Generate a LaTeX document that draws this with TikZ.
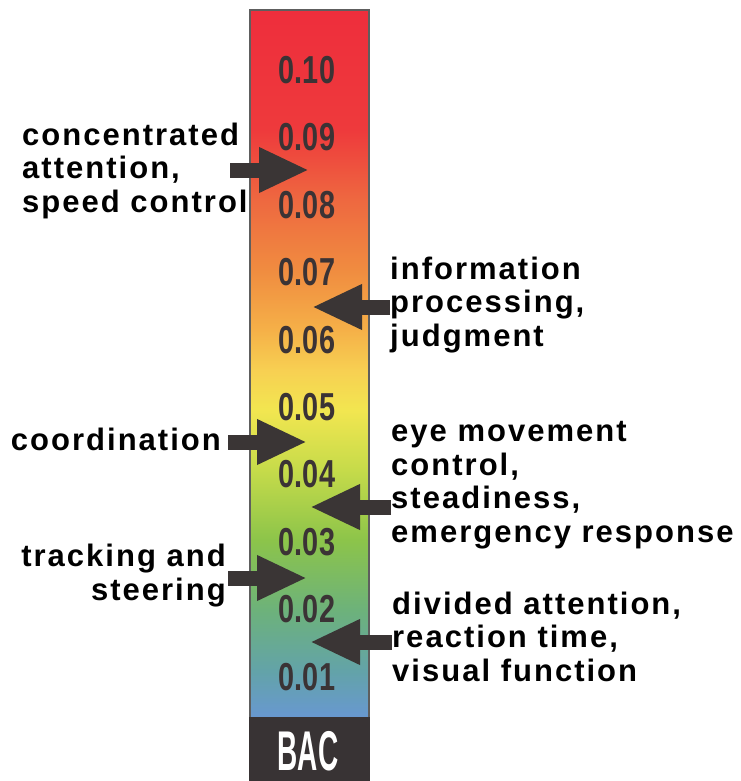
\documentclass[tikz,border=0pt]{standalone}
\usepackage{fontspec}
\usepackage{graphicx}
\setmainfont{Liberation Sans}
\newfontfamily\labelfont{Liberation Sans}[LetterSpace=6.5]
\usetikzlibrary{arrows.meta}
\definecolor{barred}{HTML}{EE2E3C}
\definecolor{barred2}{HTML}{EE3A3C}
\definecolor{barorange}{HTML}{EE6840}
\definecolor{barorange2}{HTML}{F08C40}
\definecolor{baramber}{HTML}{F5B048}
\definecolor{baryellow2}{HTML}{F7D052}
\definecolor{baryellow}{HTML}{F2E650}
\definecolor{barlime}{HTML}{C6DB4A}
\definecolor{bargreen}{HTML}{8CC44A}
\definecolor{bargreen2}{HTML}{6DB27A}
\definecolor{barteal}{HTML}{63A3A8}
\definecolor{barblue}{HTML}{6898D0}
\definecolor{arrowgray}{HTML}{3A3535}
\definecolor{numgray}{HTML}{3B3335}
\definecolor{bacdark}{HTML}{383334}
\definecolor{bordergray}{HTML}{5E5E5E}
\pgfdeclareverticalshading{bacshading}{100bp}{color(0bp)=(barblue); color(25bp)=(barblue);
  color(28.3bp)=(barteal); color(32.6bp)=(bargreen2); color(37.5bp)=(bargreen);
  color(42.5bp)=(barlime); color(46.7bp)=(baryellow); color(49.5bp)=(baryellow2);
  color(52.4bp)=(baramber); color(56.6bp)=(barorange2); color(61.6bp)=(barorange);
  color(66.5bp)=(barred2); color(75bp)=(barred); color(100bp)=(barred)}
\tikzset{num/.style={font=\bfseries\fontsize{39}{39}\selectfont, text=numgray, inner sep=0pt},
         effect/.style={font=\labelfont\bfseries\fontsize{31}{33.5}\selectfont, inner sep=0pt},
         blockarrow/.style={line width=15pt, draw=arrowgray, -{Triangle[length=50pt,width=42pt]}}}

\begin{document}
\begin{tikzpicture}[x=1pt,y=-1pt]
        \useasboundingbox (0,0) rectangle (740,781);
        \pgfmathsetmacro{\xl}{250}
        \pgfmathsetmacro{\xr}{369}
        \pgfmathsetmacro{\ytop}{10}
        \pgfmathsetmacro{\ybac}{717}
        %
        \shade[shading=bacshading] (\xl,\ytop) rectangle (\xr,\ybac);
        \draw[bordergray, line width=2pt] (\xl,\ybac) -- (\xl,\ytop) -- (\xr,\ytop) -- (\xr,\ybac);
        \fill[bacdark] (\xl-1,\ybac) rectangle (\xr+1,781);
        \node[text=white, font=\bfseries\fontsize{56}{56}\selectfont, inner sep=0pt] (bac) at (308,751) {\scalebox{0.5}[1]{BAC}};
        %
        \foreach \i/\lab in {1/0.01,2/0.02,3/0.03,4/0.04,5/0.05,6/0.06,7/0.07,8/0.08,9/0.09,10/0.10}
            \node[num] (n\i) at (307,{70+(10-\i)*67.4}) {\scalebox{0.74}[1]{\lab}};
        %
        % base of a multi-line node is its last line
        \node[effect, align=left, anchor=base west] (conc) at (22,212) {concentrated\\attention,\\speed control};
        \node[effect, anchor=base east] (coord) at (221,450) {coordination};
        \node[effect, align=right, anchor=base east] (track) at (226,600) {tracking and\\steering};
        \node[effect, align=left, anchor=base west] (info) at (390,346) {information\\processing,\\judgment};
        \node[effect, align=left, anchor=base west] (eye) at (391,542) {eye movement\\control,\\steadiness,\\emergency response};
        \node[effect, align=left, anchor=base west] (divided) at (392,681) {divided attention,\\reaction time,\\visual function};
        %
        \coordinate (concS) at (230,170);
        \coordinate (concT) at (309,170);
        \coordinate (coordS) at (228,442);
        \coordinate (coordT) at (307,442);
        \coordinate (trackS) at (228,578);
        \coordinate (trackT) at (307,578);
        \coordinate (infoT) at (312,307);
        \coordinate (eyeT) at (310,507);
        \coordinate (dividedT) at (310,642);
        %
        \draw[blockarrow] (concS) -- (concT);
        \draw[blockarrow] (coordS) -- (coordT);
        \draw[blockarrow] (trackS) -- (trackT);
        \draw[blockarrow] (info.west |- infoT) -- (infoT);
        \draw[blockarrow] (eye.west |- eyeT) -- (eyeT);
        \draw[blockarrow] (divided.west |- dividedT) -- (dividedT);
    \end{tikzpicture}
\end{document}
